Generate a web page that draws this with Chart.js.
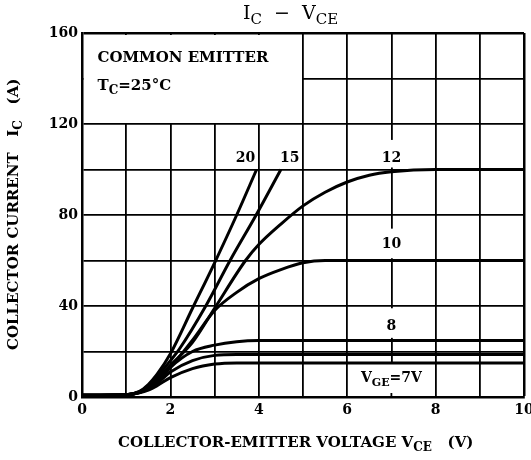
<!DOCTYPE html>
<html lang="en">
<head>
    <meta charset="UTF-8">
    <title>IC - VCE</title>
    <script src="https://cdn.jsdelivr.net/npm/chart.js"></script>
    <style>
        body { margin: 0; background: #fff; }
        #wrap { width: 531px; height: 460px; }
    </style>
</head>
<body>
    <div id="wrap"><canvas id="icChart" width="531" height="460"></canvas></div>
    <script>
        // curves, VCE in volts / IC in amps
        const vge20V = [0, 1.0, 1.3, 1.5, 1.7, 2.0, 2.5, 3.0, 3.5, 3.95];
        const vge20A = [0.8, 1, 2.5, 5.5, 10, 19, 39, 59, 80, 100];
        const vge15V = [0, 1.0, 1.3, 1.5, 1.7, 2.0, 2.2, 2.8, 3.35, 3.94, 4.5];
        const vge15A = [0.8, 1, 2.3, 5, 9, 16, 21, 40, 60, 80, 100];
        const vge12V = [0, 1.0, 1.3, 1.5, 1.7, 2.0, 2.5, 3.0, 3.7, 4.0, 4.5, 5.0, 5.5, 6.0, 6.5, 7.0, 8.0, 10];
        const vge12A = [0.8, 1, 2.2, 4.5, 8, 14, 24, 39, 60, 67, 76, 84, 90, 94.5, 97.5, 99, 100, 100];
        const vge10V = [0, 1.0, 1.3, 1.5, 1.7, 2.0, 2.5, 3.0, 3.5, 4.0, 4.5, 5.0, 5.5, 6.0, 10];
        const vge10A = [0.8, 1, 2, 4, 7, 13, 25, 38, 46, 52, 56, 59, 60, 60, 60];
        const vge8V = [0, 1.0, 1.3, 1.5, 1.7, 2.0, 2.5, 3.0, 3.5, 4.0, 10];
        const vge8A = [0.8, 1, 2, 3.8, 6.5, 13, 20, 22.8, 24.3, 24.8, 24.8];
        const vgeMidV = [0, 1.0, 1.3, 1.5, 1.7, 2.0, 2.5, 3.0, 3.5, 10];
        const vgeMidA = [0.8, 1, 2, 3.5, 6, 11, 16, 18.3, 18.7, 18.7];
        const vge7V = [0, 1.0, 1.3, 1.5, 1.7, 2.0, 2.5, 3.0, 3.5, 10];
        const vge7A = [0.8, 1, 1.8, 3, 5, 8.5, 12.5, 14.5, 15, 15];

        const xTicks = [0, 2, 4, 6, 8, 10];
        const yTicks = [0, 40, 80, 120, 160];

        const bold = '"DejaVu Serif", serif';

        function pts(xs, ys) {
            return xs.map((v, i) => ({ x: v, y: ys[i] }));
        }
        function curve(label, xs, ys) {
            return {
                label: label,
                data: pts(xs, ys),
                borderColor: '#000',
                borderWidth: 3,
                pointRadius: 0,
                fill: false,
                cubicInterpolationMode: 'monotone'
            };
        }

        // draw text made of [string, isSubscript] pieces
        function richWidth(ctx, parts, size) {
            let w = 0;
            parts.forEach(p => {
                ctx.font = 'bold ' + (p[1] ? Math.round(size * 0.8) : size) + 'px ' + bold;
                w += ctx.measureText(p[0]).width;
            });
            return w;
        }
        function drawRich(ctx, parts, x, y, size, weight) {
            parts.forEach(p => {
                const s = p[1] ? Math.round(size * 0.8) : size;
                ctx.font = (weight || 'bold') + ' ' + s + 'px ' + bold;
                ctx.fillText(p[0], x, p[1] ? y + size * 0.3 : y);
                x += ctx.measureText(p[0]).width;
            });
        }

        const notes = {
            id: 'notes',
            beforeDatasetsDraw(chart) {
                const { ctx, scales: { x, y } } = chart;
                ctx.save();
                ctx.fillStyle = '#fff';
                // blank corner box for the test conditions
                const x0 = x.getPixelForValue(0), x5 = x.getPixelForValue(5);
                const yt = y.getPixelForValue(160), y120 = y.getPixelForValue(120);
                ctx.fillRect(x0 + 2, yt + 2, x5 - x0 - 3, y120 - yt - 3);
                // gaps in the 7 V line around the labels
                const x7 = x.getPixelForValue(7);
                ctx.fillRect(x7 - 14, y.getPixelForValue(113), 28, y.getPixelForValue(100) - y.getPixelForValue(113) - 2);
                ctx.fillRect(x7 - 14, y.getPixelForValue(74), 28, y.getPixelForValue(61) - y.getPixelForValue(74));
                ctx.fillRect(x7 - 14, y.getPixelForValue(39), 28, y.getPixelForValue(26) - y.getPixelForValue(39));
                // VGE=7V box
                const x6 = x.getPixelForValue(6), x8 = x.getPixelForValue(8);
                const y15 = y.getPixelForValue(15), y0 = y.getPixelForValue(0);
                ctx.fillRect(x6 + 1, y15, x8 - x6 - 2, y0 - y15 - 1);
                ctx.strokeStyle = '#000';
                ctx.lineWidth = 1.8;
                ctx.beginPath();
                ctx.moveTo(x7, y0);
                ctx.lineTo(x7, y0 - 4);
                ctx.stroke();
                ctx.restore();
            },
            afterDatasetsDraw(chart) {
                const { ctx, scales: { x, y } } = chart;
                ctx.save();
                ctx.fillStyle = '#000';
                ctx.textBaseline = 'middle';
                ctx.textAlign = 'center';
                ctx.font = 'bold 14px ' + bold;
                ctx.fillText('20', x.getPixelForValue(3.7), y.getPixelForValue(105));
                ctx.fillText('15', x.getPixelForValue(4.7), y.getPixelForValue(105));
                ctx.fillText('12', x.getPixelForValue(7), y.getPixelForValue(105));
                ctx.fillText('10', x.getPixelForValue(7), y.getPixelForValue(67));
                ctx.fillText('8', x.getPixelForValue(7), y.getPixelForValue(31));
                ctx.textAlign = 'left';
                const vge = [['V', false], ['GE', true], ['=7V', false]];
                const w = richWidth(ctx, vge, 14);
                drawRich(ctx, vge, x.getPixelForValue(7) - w / 2, y.getPixelForValue(8), 14);
                drawRich(ctx, [['COMMON EMITTER', false]], x.getPixelForValue(0.35), y.getPixelForValue(149), 15);
                drawRich(ctx, [['T', false], ['C', true], ['=25°C', false]], x.getPixelForValue(0.35), y.getPixelForValue(136.5), 15);
                ctx.restore();
            },
            afterDraw(chart) {
                const { ctx } = chart;
                ctx.save();
                ctx.fillStyle = '#000';
                ctx.textBaseline = 'middle';
                ctx.textAlign = 'left';
                // title
                drawRich(ctx, [['I', false], ['C', true], ['  \u2212  ', false], ['V', false], ['CE', true]], 243, 14, 19, 'normal');
                // x axis title
                drawRich(ctx, [['COLLECTOR-EMITTER VOLTAGE V', false], ['CE', true], ['   (V)', false]], 118, 443, 15);
                // y axis title, rotated
                ctx.translate(14, 350);
                ctx.rotate(-Math.PI / 2);
                drawRich(ctx, [['COLLECTOR CURRENT   I', false], ['C', true], ['   (A)', false]], 0, 0, 15);
                ctx.restore();
            }
        };

        const ctx = document.getElementById('icChart').getContext('2d');
        const icChart = new Chart(ctx, {
            type: 'line',
            data: {
                datasets: [
                    curve('VGE=20V', vge20V, vge20A),
                    curve('VGE=15V', vge15V, vge15A),
                    curve('VGE=12V', vge12V, vge12A),
                    curve('VGE=10V', vge10V, vge10A),
                    curve('VGE=8V', vge8V, vge8A),
                    curve('VGE', vgeMidV, vgeMidA),
                    curve('VGE=7V', vge7V, vge7A)
                ]
            },
            options: {
                responsive: false,
                animation: false,
                layout: { padding: { left: 0, top: 33, right: 7, bottom: 0 } },
                plugins: {
                    legend: { display: false },
                    title: { display: false },
                    tooltip: { enabled: false }
                },
                scales: {
                    x: {
                        type: 'linear',
                        min: 0,
                        max: 10,
                        ticks: {
                            stepSize: 1,
                            padding: 5,
                            color: '#000',
                            font: { family: bold, weight: 'bold', size: 14 },
                            maxRotation: 0,
                            autoSkip: false,
                            callback: v => xTicks.includes(v) ? v : ''
                        },
                        grid: {
                            color: '#000',
                            drawTicks: false,
                            lineWidth: c => (c.tick && c.tick.value === 10) ? 2.5 : 1.8
                        },
                        border: { color: '#000', width: 2.5 },
                        afterFit: s => { s.height = 63; s.paddingLeft = 0; s.paddingRight = 0; }
                    },
                    y: {
                        min: 0,
                        max: 160,
                        ticks: {
                            stepSize: 20,
                            padding: 4,
                            color: '#000',
                            font: { family: bold, weight: 'bold', size: 14 },
                            callback: v => yTicks.includes(v) ? v : ''
                        },
                        grid: {
                            color: '#000',
                            drawTicks: false,
                            lineWidth: c => (c.tick && c.tick.value === 160) ? 2.5 : 1.8
                        },
                        border: { color: '#000', width: 2.5 },
                        afterFit: s => { s.width = 82; s.paddingTop = 0; s.paddingBottom = 0; }
                    }
                }
            },
            plugins: [notes]
        });
    </script>
</body>
</html>
